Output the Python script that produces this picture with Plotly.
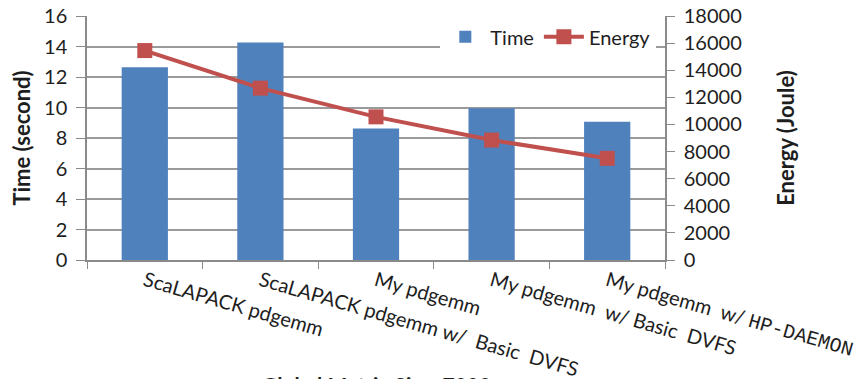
import plotly.graph_objects as go

categories = [
    "ScaLAPACK pdgemm",
    "ScaLAPACK pdgemm w/\u00a0 Basic\u00a0 DVFS",
    "My pdgemm",
    "My pdgemm\u00a0 w/ Basic\u00a0 DVFS",
    "My pdgemm\u00a0 w/ <span style=\"font-family:'Liberation Mono'\">HP-DAEMON</span>",
]
time_s = [12.64, 14.27, 8.63, 9.95, 9.07]
energy_j = [15450, 12680, 10560, 8850, 7500]

time_ticks = [0, 2, 4, 6, 8, 10, 12, 14, 16]
energy_ticks = [0, 2000, 4000, 6000, 8000, 10000, 12000, 14000, 16000, 18000]
energy_tick_text = [str(v) for v in energy_ticks]

FONT = "Lato"
TXT = "#1e1e1e"
GRID = "#9a9a9a"
AXIS = "#8a8a8a"

fig = go.Figure()
fig.add_trace(go.Bar(
    x=categories, y=time_s, name="Time",
    marker=dict(color="#4F81BD", line=dict(width=0)),
    width=0.4, yaxis="y",
))
fig.add_trace(go.Scatter(
    x=categories, y=energy_j, name="Energy", mode="lines+markers",
    line=dict(color="#C0504D", width=4),
    marker=dict(symbol="square", size=15, color="#C0504D"),
    yaxis="y2",
))

fig.update_layout(
    width=865, height=379,
    margin=dict(l=79, r=208, t=8, b=127, autoexpand=False),
    paper_bgcolor="white", plot_bgcolor="white",
    font=dict(family=FONT, size=20, color=TXT),
    showlegend=True,
    legend=dict(
        orientation="h", x=0.985, xanchor="right", y=0.995, yanchor="top",
        bgcolor="white", font=dict(size=20, color=TXT),
        itemwidth=40, tracegroupgap=0,
    ),
    xaxis=dict(
        type="category", showgrid=False, showline=True, linecolor=AXIS, linewidth=1.5,
        ticks="outside", tickson="boundaries", ticklen=7, tickcolor=AXIS,
        tickangle=16, tickfont=dict(size=20, color=TXT), automargin=False,
        range=[-0.5, 4.5],
    ),
    yaxis=dict(
        range=[0, 16], tickvals=time_ticks, showgrid=True, gridcolor=GRID, gridwidth=1.5,
        showline=True, linecolor=AXIS, linewidth=1.5, ticks="outside", ticklen=9,
        tickcolor=AXIS, tickfont=dict(size=20, color=TXT), ticklabelstandoff=5,
        ticklabeloverflow="allow",
        zeroline=False, automargin=False,
        title=dict(text="<b>Time (second)</b>", font=dict(size=22, color=TXT), standoff=10),
    ),
    yaxis2=dict(
        range=[0, 18000], tickvals=energy_ticks, ticktext=energy_tick_text,
        overlaying="y", side="right", ticklabeloverflow="allow",
        showgrid=False, showline=True, linecolor=AXIS, linewidth=1.5, ticks="outside",
        ticklen=8, tickcolor=AXIS, tickfont=dict(size=20, color=TXT), ticklabelstandoff=5,
        zeroline=False, automargin=False,
        title=dict(text="<b>Energy (Joule)</b>", font=dict(size=22, color=TXT), standoff=38),
    ),
    annotations=[dict(
        text="<b>Global Matrix Size: 7000</b>", xref="paper", yref="paper",
        x=0.5, y=-0.45, xanchor="center", yanchor="top", showarrow=False,
        font=dict(size=21, color=TXT),
    )],
)

fig.write_html("out.html")
